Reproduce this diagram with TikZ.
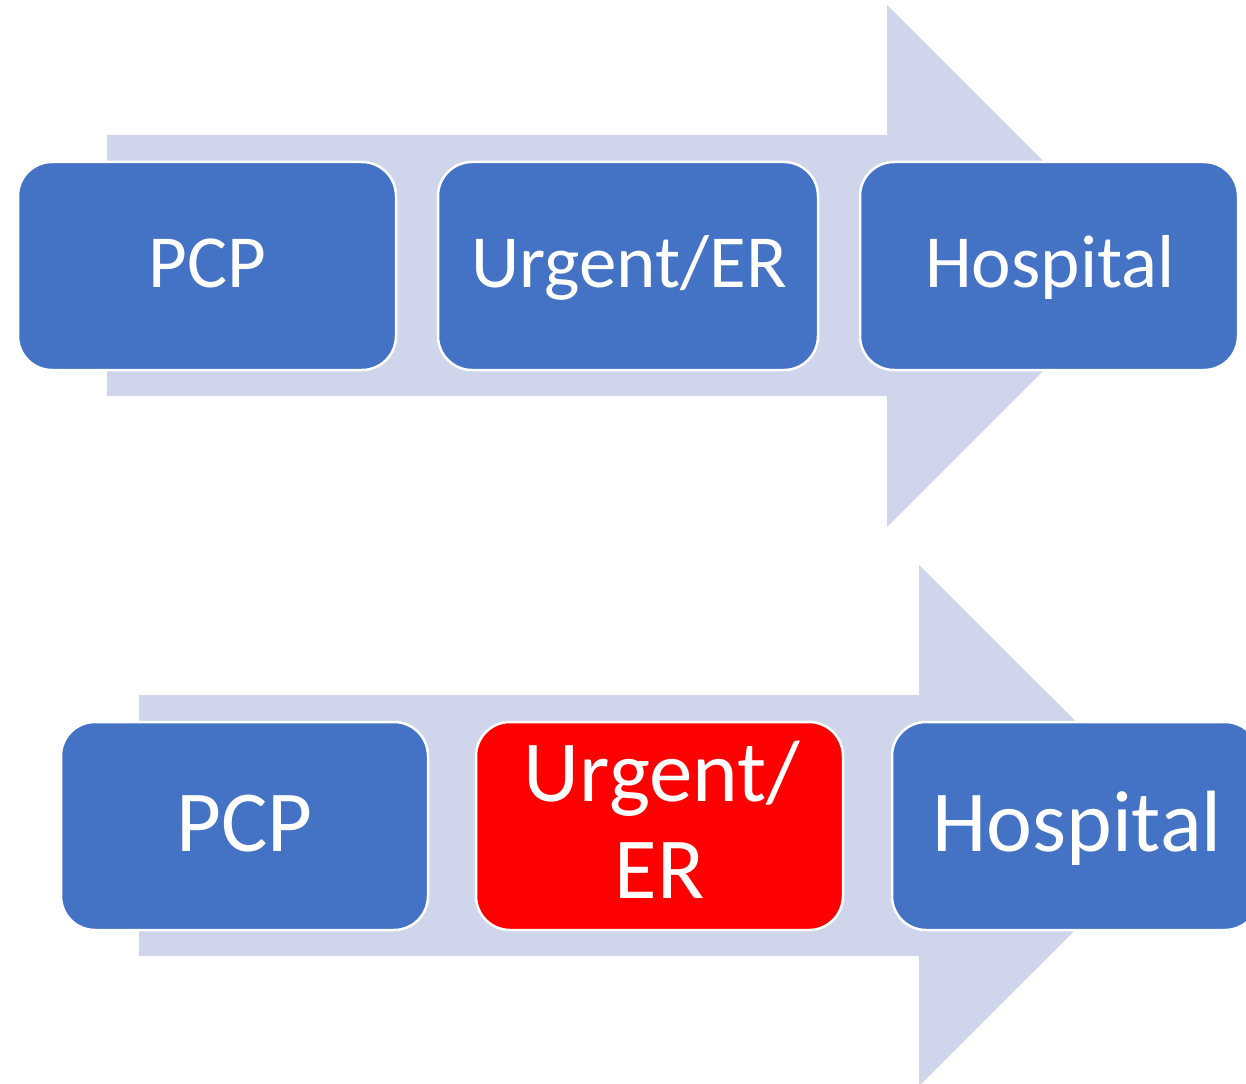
\documentclass[tikz,border=0pt]{standalone}
\usepackage{fontspec}
\setmainfont{Carlito}
\definecolor{arrowfill}{HTML}{CFD5EA}
\definecolor{boxblue}{HTML}{4472C4}
\definecolor{boxred}{HTML}{FF0000}
\tikzset{
  bigarrow/.style={fill=arrowfill, draw=none},
  stepbox/.style={rectangle, rounded corners=34pt, fill=boxblue, draw=white, line width=2.5pt, inner sep=0pt},
  redbox/.style={stepbox, fill=boxred},
  toptext/.style={text=white, inner sep=0pt, anchor=base, font=\fontsize{75}{83}\selectfont},
  bottext/.style={text=white, inner sep=0pt, anchor=base, font=\fontsize{87}{96}\selectfont, align=center},
}
\begin{document}
\begin{tikzpicture}[x=1pt,y=-1pt]
\useasboundingbox (0,0) rectangle (1246,1083);
\fill[white] (0,0) rectangle (1246,1083);
\clip (0,0) rectangle (1246,1083);
% top arrow
\fill[bigarrow] (107,135) -- (887,135) -- (887,5) -- (1148,266) -- (887,527) -- (887,396) -- (107,396) -- cycle;
% top boxes
\node[stepbox, minimum width=378pt, minimum height=208pt] (t1) at (207,266) {};
\node[stepbox, minimum width=380pt, minimum height=208pt] (t2) at (628,266) {};
\node[stepbox, minimum width=378pt, minimum height=208pt] (t3) at (1049,266) {};
\node[toptext] (t1txt) at (207,287) {PCP};
\node[toptext] (t2txt) at (629,287) {Urgent/ER};
\node[toptext] (t3txt) at (1050,287) {Hospital};
% bottom arrow
\fill[bigarrow] (139,695) -- (919,695) -- (919,565) -- (1180,825.5) -- (919,1086) -- (919,956) -- (139,956) -- cycle;
% bottom boxes
\node[stepbox, minimum width=367pt, minimum height=208pt] (b1) at (244.5,826) {};
\node[redbox, minimum width=367pt, minimum height=208pt] (b2) at (659.5,826) {};
\node[stepbox, minimum width=367pt, minimum height=208pt] (b3) at (1075.5,826) {};
\node[bottext] (b1txt) at (244.5,851) {PCP};
\node[bottext, anchor=base] (b2txta) at (662,801) {Urgent/};
\node[bottext, anchor=base] (b2txtb) at (659.5,898) {ER};
\node[bottext] (b3txt) at (1077,851) {Hospital};
\end{tikzpicture}
\end{document}
